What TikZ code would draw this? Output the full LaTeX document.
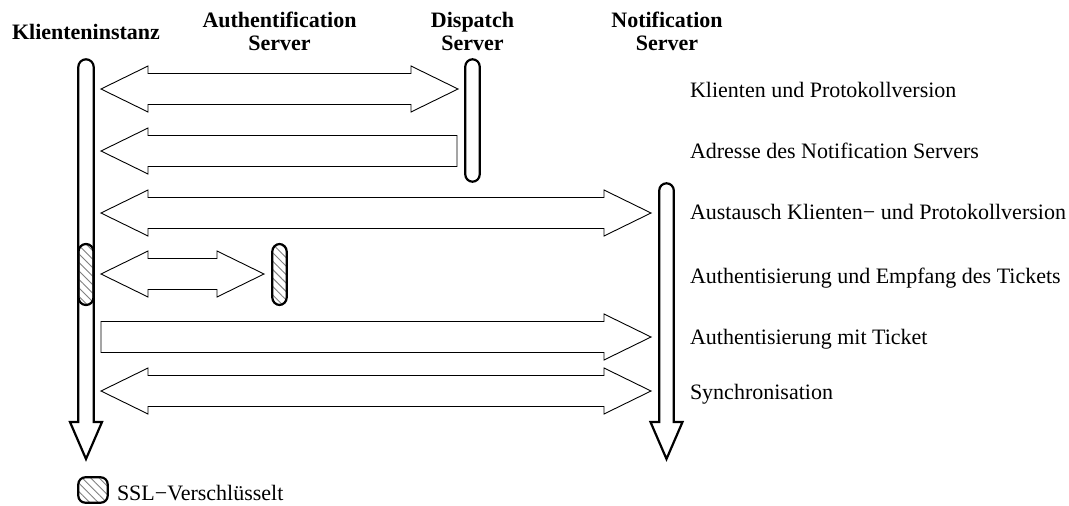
\documentclass[tikz,border=0pt]{standalone}
\usepackage{fontspec}
\setmainfont{Liberation Serif}
\usetikzlibrary{calc,patterns.meta}

\begin{document}
\begin{tikzpicture}[x=1pt,y=-1pt,
  every node/.style={inner sep=0pt, outer sep=0pt, font=\fontsize{22}{23}\selectfont},
  head/.style={font=\fontsize{22}{23}\selectfont\bfseries, align=center, anchor=base},
  note/.style={anchor=base west},
  lifeline/.style={draw, line width=2.2pt, fill=white, line join=miter},
  sslpart/.style={draw, line width=2.2pt,
    pattern={Lines[angle=-45,distance=6pt,line width=0.9pt]}, pattern color=gray},
  blockarrow/.style={draw, line width=0.9pt, fill=white, line join=miter},
  % block arrow with heads at both ends
  twoway/.style={blockarrow, to path={
    -- ($(\tikztostart)+(47,-23)$) -- ($(\tikztostart)+(47,-15.5)$)
    -- ($(\tikztotarget)+(-47,-15.5)$) -- ($(\tikztotarget)+(-47,-23)$)
    -- (\tikztotarget)
    -- ($(\tikztotarget)+(-47,23)$) -- ($(\tikztotarget)+(-47,15.5)$)
    -- ($(\tikztostart)+(47,15.5)$) -- ($(\tikztostart)+(47,23)$) -- cycle}},
  % block arrow with its head at the start point
  backward/.style={blockarrow, to path={
    -- ($(\tikztostart)+(47,-23)$) -- ($(\tikztostart)+(47,-15.5)$)
    -- ($(\tikztotarget)+(0,-15.5)$) -- ($(\tikztotarget)+(0,15.5)$)
    -- ($(\tikztostart)+(47,15.5)$) -- ($(\tikztostart)+(47,23)$) -- cycle}},
  % block arrow with its head at the target point
  forward/.style={blockarrow, to path={
    -- ($(\tikztostart)+(0,-15.5)$) -- ($(\tikztotarget)+(-47,-15.5)$)
    -- ($(\tikztotarget)+(-47,-23)$) -- (\tikztotarget)
    -- ($(\tikztotarget)+(-47,23)$) -- ($(\tikztotarget)+(-47,15.5)$)
    -- ($(\tikztostart)+(0,15.5)$) -- cycle}}
]
\useasboundingbox (0,0) rectangle (1069,506);

% column headings (base = baseline of the last line)
\node[head] (hklient) at (86,39) {Klienteninstanz};
\node[head] (hauth) at (279.5,50) {Authentification\\Server};
\node[head] (hdisp) at (472.5,50) {Dispatch\\Server};
\node[head] (hnotif) at (667,50) {Notification\\Server};

% lifelines
\draw[lifeline] (78.3,422) [rounded corners=7.7pt] -- (78.3,59.3) -- (93.7,59.3)
  [sharp corners] -- (93.7,422) -- (102,422) -- (86,459) -- (70,422) -- cycle;
\draw[lifeline] (659.2,422) [rounded corners=7.3pt] -- (659.2,183.3) -- (673.8,183.3)
  [sharp corners] -- (673.8,422) -- (682.5,422) -- (666.5,459) -- (650.5,422) -- cycle;
\draw[lifeline, rounded corners=7.2pt] (465.3,59.3) rectangle (479.7,181.7);

% encrypted sections
\draw[sslpart, rounded corners=7.5pt] (78.5,244) rectangle (93.5,305);
\draw[sslpart, rounded corners=7.5pt] (272.3,244) rectangle (286.7,305);

% message end points
\coordinate (m1a) at (101,89);  \coordinate (m1b) at (458,89);
\coordinate (m2a) at (101,151); \coordinate (m2b) at (457,151);
\coordinate (m3a) at (101,213); \coordinate (m3b) at (651,213);
\coordinate (m4a) at (101,274); \coordinate (m4b) at (264,274);
\coordinate (m5a) at (101,337); \coordinate (m5b) at (651,337);
\coordinate (m6a) at (101,391); \coordinate (m6b) at (651,391);

% messages
\draw[twoway] (m1a) to (m1b);
\draw[backward] (m2a) to (m2b);
\draw[twoway] (m3a) to (m3b);
\draw[twoway] (m4a) to (m4b);
\draw[forward] (m5a) to (m5b);
\draw[twoway] (m6a) to (m6b);

% message descriptions
\node[note] (t1) at (690,97) {Klienten und Protokollversion};
\node[note] (t2) at (690,158) {Adresse des Notification Servers};
\node[note] (t3) at (690,219) {Austausch Klienten− und Protokollversion};
\node[note] (t4) at (690,283) {Authentisierung und Empfang des Tickets};
\node[note] (t5) at (690,344) {Authentisierung mit Ticket};
\node[note] (t6) at (690,399) {Synchronisation};

% legend
\draw[sslpart, rounded corners=7pt] (78.3,477.3) rectangle (107.7,502.7);
\node[note] (legend) at (117,500) {SSL−Verschlüsselt};
\end{tikzpicture}
\end{document}
